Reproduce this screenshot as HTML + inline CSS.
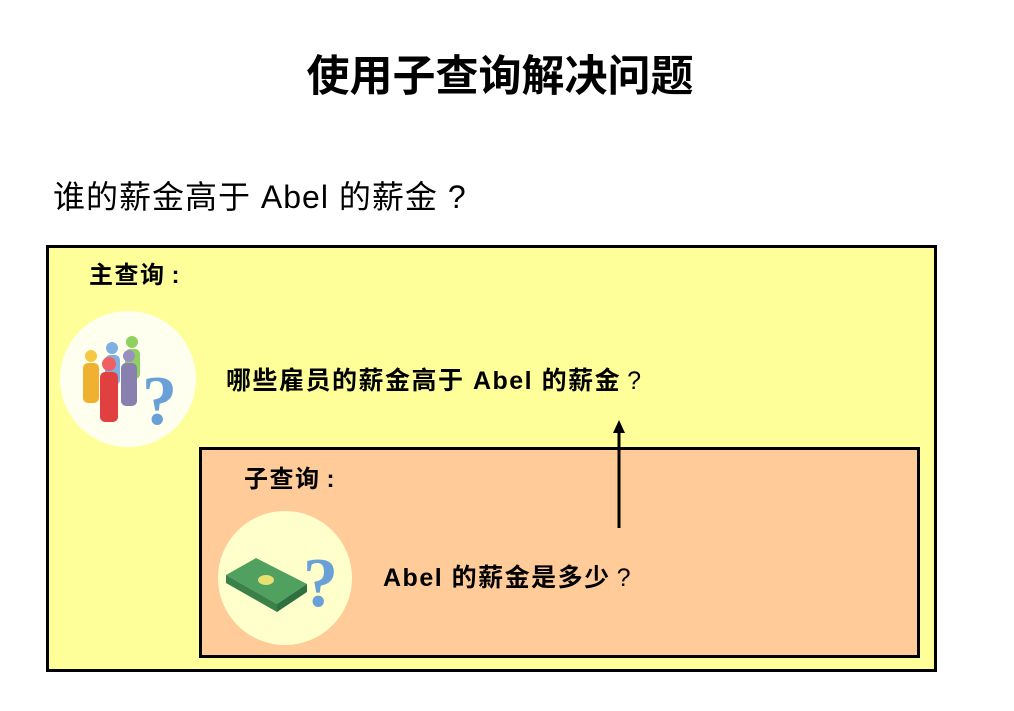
<!DOCTYPE html>
<html><head><meta charset="utf-8"><style>
body{margin:0;width:1014px;height:711px;background:#fff;position:relative;overflow:hidden;font-family:"Liberation Sans","Noto Sans CJK SC",sans-serif}
.a{position:absolute;white-space:nowrap}
.q{display:inline-block;margin-left:6px;font-weight:normal}
</style></head><body>
<div class="a" style="left:0;width:1000px;top:52px;text-align:center;font-size:43px;font-weight:bold;line-height:50px">使用子查询解决问题</div>
<div class="a" style="left:53px;top:177px;font-size:32px;line-height:40px;letter-spacing:1px">谁的薪金高于 Abel 的薪金<span class="q" style="margin-left:10px">?</span></div>
<div class="a" style="left:46px;top:245px;width:885px;height:421px;background:#ffff99;border:3px solid #000"></div>
<div class="a" style="left:89px;top:261px;font-size:24px;font-weight:bold;line-height:30px;letter-spacing:1.5px">主查询<span style="margin-left:6px">:</span></div>
<svg class="a" style="left:0;top:0" width="1014" height="711">
<circle cx="128" cy="379" r="68" fill="#fffff0"/>
<g>
<circle cx="132" cy="342" r="6" fill="#8fd060"/><rect x="125" y="349" width="15" height="30" rx="5" fill="#8fd060"/>
<circle cx="112" cy="348" r="6" fill="#7fb0e0"/><rect x="105" y="355" width="15" height="30" rx="5" fill="#7fb0e0"/>
<circle cx="91" cy="356" r="6" fill="#f7c843"/><rect x="83" y="363" width="16" height="40" rx="5" fill="#f0b030"/>
<circle cx="129" cy="356" r="6" fill="#9a90c0"/><rect x="121" y="363" width="16" height="43" rx="5" fill="#8a80b0"/>
<circle cx="109" cy="364" r="7" fill="#f06060"/><rect x="100" y="372" width="18" height="50" rx="5" fill="#e04040"/>
<text x="142" y="424" font-size="70" font-weight="bold" fill="#6aa0d8" font-family="Liberation Serif,serif">?</text>
</g>
</svg>
<div class="a" style="left:226px;top:366px;font-size:25px;font-weight:bold;line-height:30px;letter-spacing:1.5px">哪些雇员的薪金高于 Abel 的薪金<span class="q">?</span></div>
<div class="a" style="left:199px;top:447px;width:715px;height:205px;background:#ffcc99;border:3px solid #000"></div>
<div class="a" style="left:244px;top:465px;font-size:24px;font-weight:bold;line-height:30px;letter-spacing:1.5px">子查询<span style="margin-left:6px">:</span></div>
<svg class="a" style="left:0;top:0" width="1014" height="711">
<circle cx="285" cy="578" r="67" fill="#ffffcc"/>
<polygon points="226,575 256,558 307,584 277,604" fill="#50a060"/>
<polygon points="226,575 277,604 277,612 226,583" fill="#3a8048"/>
<polygon points="277,604 307,584 307,592 277,612" fill="#2f7040"/>
<ellipse cx="266" cy="580" rx="8" ry="5" fill="#e8e070"/>
<text x="303" y="606" font-size="70" font-weight="bold" fill="#6aa0d8" font-family="Liberation Serif,serif">?</text>
<line x1="619" y1="528" x2="619" y2="432" stroke="#000" stroke-width="3"/>
<polygon points="613,433 625,433 619,420" fill="#000"/>
</svg>
<div class="a" style="left:383px;top:563px;font-size:25px;font-weight:bold;line-height:30px;letter-spacing:1.5px">Abel 的薪金是多少<span class="q">?</span></div>
</body></html>
